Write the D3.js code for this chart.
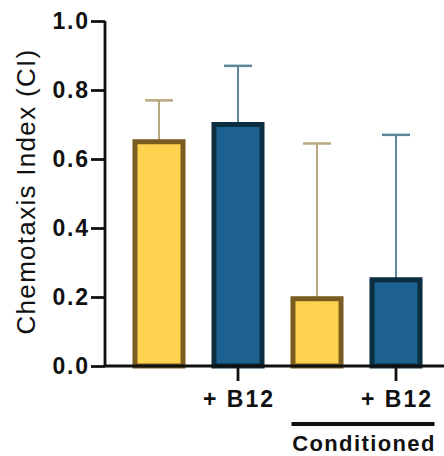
<!DOCTYPE html>
<html>
<head>
<meta charset="utf-8">
<script src="https://cdn.jsdelivr.net/npm/d3@7"></script>
<style>
  html, body { margin: 0; padding: 0; background: #fff; }
  svg { display: block; }
  text { font-family: "Liberation Sans", Arial, Helvetica, sans-serif; fill: #111; }
</style>
</head>
<body>
<svg id="chart" width="444" height="456"></svg>
<script>
// ---- data ----
const categories = ["Control", "+ B12", "Conditioned", "Conditioned + B12"];
const tickLabelsX = ["", "+ B12", "", "+ B12"];
const values = [0.65, 0.70, 0.195, 0.25];
const errors = [0.12, 0.17, 0.45, 0.42];
const yTicks = [0.0, 0.2, 0.4, 0.6, 0.8, 1.0];
const groupLabel = "Conditioned";
const yTitle = "Chemotaxis Index (CI)";

const fills   = ["#FDD24F", "#1C6190", "#FDD24F", "#1C6190"];
const strokes = ["#7A5C21", "#0B2F41", "#7A5C21", "#0B2F41"];
const errCols = ["#B9A77E", "#5E8799", "#B9A77E", "#5E8799"];

const svg = d3.select("#chart");

const y = d3.scaleLinear().domain([0, 1]).range([366, 21]);
const x = d3.scaleBand().domain(categories).range([119.5, 435.5])
  .paddingInner(0.392).paddingOuter(0.196);

const data = categories.map((c, i) => ({c, v: values[i], e: errors[i], i}));

// error bars (upper only)
const eg = svg.append("g");
data.forEach(d => {
  const cx = x(d.c) + x.bandwidth() / 2;
  eg.append("line")
    .attr("x1", cx).attr("x2", cx)
    .attr("y1", y(d.v)).attr("y2", y(d.v + d.e))
    .attr("stroke", errCols[d.i]).attr("stroke-width", 2);
  eg.append("line")
    .attr("x1", cx - 14).attr("x2", cx + 14)
    .attr("y1", y(d.v + d.e)).attr("y2", y(d.v + d.e))
    .attr("stroke", errCols[d.i]).attr("stroke-width", 2.5);
});

// bars
svg.append("g").selectAll("rect").data(data).join("rect")
  .attr("x", d => x(d.c))
  .attr("width", x.bandwidth())
  .attr("y", d => y(d.v))
  .attr("height", d => y(0) - y(d.v))
  .attr("fill", d => fills[d.i])
  .attr("stroke", d => strokes[d.i])
  .attr("stroke-width", 5);

// y axis
const yAxis = svg.append("g").attr("transform", "translate(105,0)")
  .call(d3.axisLeft(y).tickValues(yTicks).tickFormat(d3.format(".1f")).tickSize(14).tickPadding(3));
yAxis.select(".domain").attr("d", `M0,${y(1)}V${y(0)}`).attr("stroke", "#111").attr("stroke-width", 2.8);
yAxis.selectAll(".tick line").attr("stroke", "#111").attr("stroke-width", 2.8);
yAxis.selectAll(".tick text")
  .attr("font-size", 23).attr("font-weight", "bold")
  .attr("letter-spacing", 1.8).attr("dx", 1.8).attr("dy", "0.34em")
  .style("font-family", '"Liberation Sans", Arial, sans-serif').attr("fill", "#161616");

// x axis
const xAxis = svg.append("g").attr("transform", `translate(0,${y(0)})`)
  .call(d3.axisBottom(x).tickSize(15).tickPadding(10).tickFormat((d, i) => tickLabelsX[i]));
xAxis.select(".domain").attr("d", "M105,0H444").attr("stroke", "#111").attr("stroke-width", 2.8);
xAxis.selectAll(".tick").each(function(d, i) {
  if (!tickLabelsX[i]) d3.select(this).select("line").remove();
});
xAxis.selectAll(".tick line").attr("stroke", "#111").attr("stroke-width", 2.8);
xAxis.selectAll(".tick text")
  .attr("font-size", 23).attr("font-weight", "bold")
  .attr("letter-spacing", 2).attr("dx", 1)
  .style("font-family", '"Liberation Sans", Arial, sans-serif').attr("fill", "#161616");

// group bracket
svg.append("line")
  .attr("x1", 291.5).attr("x2", 434.5)
  .attr("y1", 424).attr("y2", 424)
  .attr("stroke", "#111").attr("stroke-width", 4.2);
svg.append("text")
  .attr("x", (291.5 + 434.5) / 2 + 1).attr("y", 451)
  .attr("text-anchor", "middle")
  .attr("font-size", 22).attr("font-weight", "bold")
  .attr("letter-spacing", 1.4)
  .attr("fill", "#161616")
  .text(groupLabel);

// y title
svg.append("text")
  .attr("transform", `translate(26,${(y(0) + y(1)) / 2 - 2}) rotate(-90)`)
  .attr("text-anchor", "middle")
  .attr("dominant-baseline", "central")
  .attr("font-size", 26)
  .attr("letter-spacing", 1.3)
  .attr("fill", "#161616")
  .text(yTitle);
</script>
</body>
</html>
